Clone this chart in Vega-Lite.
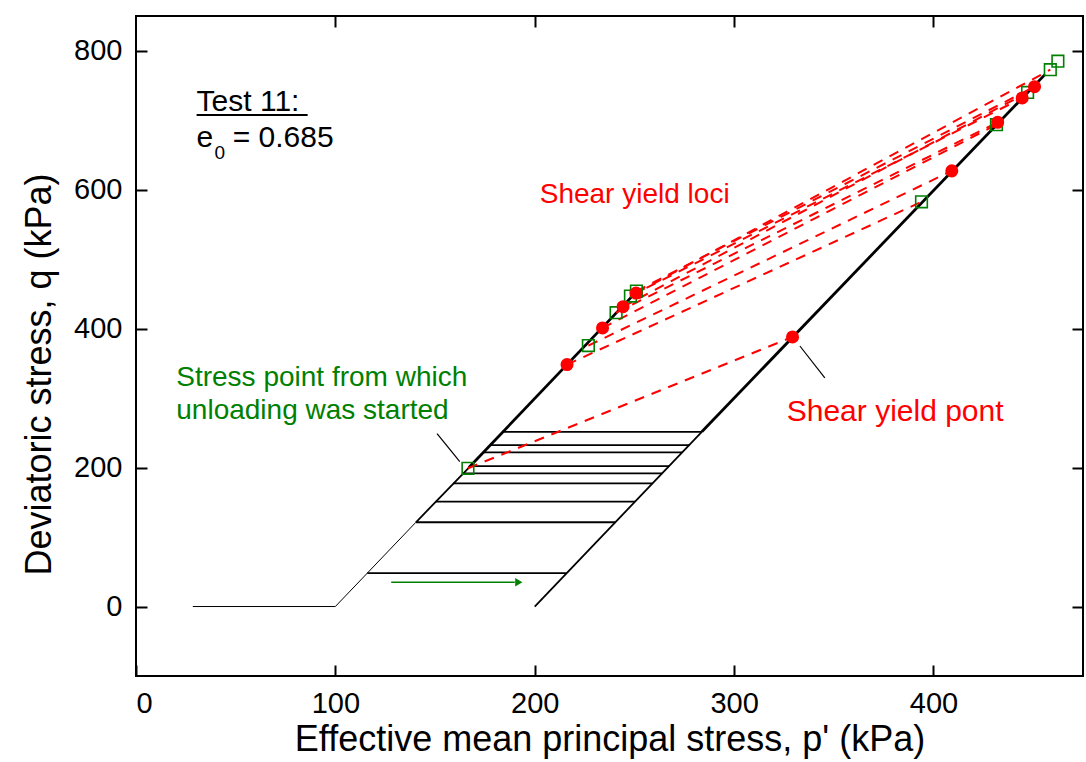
{
  "$schema": "https://vega.github.io/schema/vega-lite/v6.json",
  "width": 947,
  "height": 660,
  "autosize": "none",
  "padding": {"left": 136, "top": 16, "right": 3, "bottom": 86},
  "background": "white",
  "config": {
    "font": "Liberation Sans",
    "view": {"stroke": "black", "strokeWidth": 2},
    "axis": {"grid": false, "domain": false, "tickColor": "black", "tickWidth": 2, "labelColor": "black", "titleColor": "black", "titleFontWeight": "normal", "labelFont": "Liberation Sans", "titleFont": "Liberation Sans"}
  },
  "datasets": {
    "thin": [
      {"path": "iso", "p": 28.5, "q": 0}, {"path": "iso", "p": 100, "q": 0},
      {"path": "L0", "p": 100, "q": 0}, {"path": "L0", "p": 140.4, "q": 121.3}
    ],
    "mid": [
      {"path": "L1", "p": 140.4, "q": 121.3}, {"path": "L1", "p": 167, "q": 200},
      {"path": "R1", "p": 200, "q": 0}, {"path": "R1", "p": 283.8, "q": 251.5},
      {"path": "h1", "p": 183.8, "q": 251.5}, {"path": "h1", "p": 283.8, "q": 251.5},
      {"path": "h2", "p": 177.5, "q": 232.4}, {"path": "h2", "p": 277.5, "q": 232.4},
      {"path": "h3", "p": 174.0, "q": 221.9}, {"path": "h3", "p": 274.0, "q": 221.9},
      {"path": "h4", "p": 167.4, "q": 202.2}, {"path": "h4", "p": 267.4, "q": 202.2},
      {"path": "h5", "p": 163.9, "q": 191.7}, {"path": "h5", "p": 263.9, "q": 191.7},
      {"path": "h6", "p": 159.1, "q": 177.3}, {"path": "h6", "p": 259.1, "q": 177.3},
      {"path": "h7", "p": 150.3, "q": 150.9}, {"path": "h7", "p": 250.3, "q": 150.9},
      {"path": "h8", "p": 140.4, "q": 121.3}, {"path": "h8", "p": 240.4, "q": 121.3},
      {"path": "h9", "p": 116.0, "q": 48.0}, {"path": "h9", "p": 216.0, "q": 48.0}
    ],
    "thick": [
      {"path": "L2", "p": 167, "q": 200}, {"path": "L2", "p": 250, "q": 450},
      {"path": "R2", "p": 283.8, "q": 251.5}, {"path": "R2", "p": 456, "q": 766}
    ],
    "loci": [
      {"pair": 1, "p": 166.5, "q": 199}, {"pair": 1, "p": 329.3, "q": 388},
      {"pair": 2, "p": 216.2, "q": 348.3}, {"pair": 2, "p": 394.0, "q": 582.5},
      {"pair": 3, "p": 226.9, "q": 375.6}, {"pair": 3, "p": 409.2, "q": 627.1},
      {"pair": 4, "p": 234.0, "q": 401.0}, {"pair": 4, "p": 431.6, "q": 693.6},
      {"pair": 5, "p": 240.8, "q": 423.0}, {"pair": 5, "p": 432.2, "q": 697.0},
      {"pair": 6, "p": 244.3, "q": 431.6}, {"pair": 6, "p": 447.2, "q": 740.0},
      {"pair": 7, "p": 248.0, "q": 446.9}, {"pair": 7, "p": 444.5, "q": 732.0},
      {"pair": 8, "p": 250.8, "q": 451.2}, {"pair": 8, "p": 458.6, "q": 772.7},
      {"pair": 9, "p": 251.0, "q": 454.0}, {"pair": 9, "p": 450.7, "q": 748.2}
    ],
    "squares": [
      {"p": 166.5, "q": 199}, {"p": 226.9, "q": 375.6}, {"p": 240.8, "q": 423.0},
      {"p": 248.0, "q": 446.9}, {"p": 251.0, "q": 454.0}, {"p": 394.0, "q": 582.5},
      {"p": 431.6, "q": 693.6}, {"p": 447.2, "q": 740.0}, {"p": 458.6, "q": 772.7},
      {"p": 462.4, "q": 785.0}
    ],
    "dots": [
      {"p": 216.2, "q": 348.3}, {"p": 234.0, "q": 401.0}, {"p": 244.3, "q": 431.6},
      {"p": 250.8, "q": 451.2}, {"p": 329.3, "q": 388.0}, {"p": 409.2, "q": 627.1},
      {"p": 432.2, "q": 697.0}, {"p": 444.5, "q": 732.0}, {"p": 450.7, "q": 748.2}
    ],
    "leaders": [
      {"id": "a", "p": 151, "q": 249}, {"id": "a", "p": 162.4, "q": 208.4},
      {"id": "b", "p": 333, "q": 375}, {"id": "b", "p": 345.5, "q": 329}
    ],
    "arrow": [{"p": 128, "q": 35}, {"p": 190, "q": 35}],
    "arrowhead": [{"p": 192, "q": 35}]
  },
  "encoding": {
    "x": {"field": "p", "type": "quantitative", "scale": {"domain": [0, 475], "nice": false, "zero": false}, "axis": null},
    "y": {"field": "q", "type": "quantitative", "scale": {"domain": [-100, 850], "nice": false, "zero": false}, "axis": null}
  },
  "resolve": {"axis": {"x": "independent", "y": "independent"}},
  "layer": [
    {"data": {"name": "thin"}, "mark": {"type": "line", "color": "black", "strokeWidth": 1}, "encoding": {"detail": {"field": "path"}}},
    {"data": {"name": "mid"}, "mark": {"type": "line", "color": "black", "strokeWidth": 1.8}, "encoding": {"detail": {"field": "path"}}},
    {"data": {"name": "thick"}, "mark": {"type": "line", "color": "black", "strokeWidth": 2.8}, "encoding": {"detail": {"field": "path"}}},
    {"data": {"name": "loci"}, "mark": {"type": "line", "color": "#ff0000", "strokeWidth": 2, "strokeDash": [10, 8]}, "encoding": {"detail": {"field": "pair"}}},
    {"data": {"name": "leaders"}, "mark": {"type": "line", "color": "black", "strokeWidth": 1.2}, "encoding": {"detail": {"field": "id"}}},
    {"data": {"name": "arrow"}, "mark": {"type": "line", "color": "#008000", "strokeWidth": 1.6}, "encoding": {}},
    {"data": {"name": "arrowhead"}, "mark": {"type": "point", "shape": "triangle-right", "filled": true, "color": "#008000", "size": 70, "opacity": 1}, "encoding": {}},
    {
      "data": {"name": "squares"},
      "mark": {"type": "point", "shape": "square", "filled": false, "stroke": "#008000", "strokeWidth": 1.6, "size": 135, "opacity": 1},
      "encoding": {
        "x": {"field": "p", "type": "quantitative", "scale": {"domain": [0, 475], "nice": false, "zero": false},
              "axis": {"orient": "top", "values": [100, 200, 300, 400], "labels": false, "title": null, "tickSize": -11}},
        "y": {"field": "q", "type": "quantitative", "scale": {"domain": [-100, 850], "nice": false, "zero": false},
              "axis": {"orient": "right", "values": [0, 200, 400, 600, 800], "labels": false, "title": null, "tickSize": -11}}
      }
    },
    {
      "data": {"name": "dots"},
      "mark": {"type": "point", "shape": "circle", "filled": true, "color": "#ff0000", "size": 170, "opacity": 1},
      "encoding": {
        "x": {"field": "p", "type": "quantitative", "scale": {"domain": [0, 475], "nice": false, "zero": false},
              "axis": {"orient": "bottom", "values": [0, 100, 200, 300, 400], "tickSize": -11, "labelFontSize": 29, "labelPadding": 24,
                       "title": "Effective mean principal stress, p' (kPa)", "titleFontSize": 36, "titlePadding": 4}},
        "y": {"field": "q", "type": "quantitative", "scale": {"domain": [-100, 850], "nice": false, "zero": false},
              "axis": {"orient": "left", "values": [0, 200, 400, 600, 800], "tickSize": -11, "labelFontSize": 29, "labelPadding": 25,
                       "title": "Deviatoric stress, q (kPa)", "titleFontSize": 36, "titlePadding": 15, "titleY": 358}}
      }
    },
    {"data": {"values": [{"p": 30.4, "q": 713.7, "t": "Test 11:"}, {"p": 30.4, "q": 661.0, "t": "e"}, {"p": 48.5, "q": 661.0, "t": "= 0.685"}]},
     "mark": {"type": "text", "align": "left", "baseline": "alphabetic", "fontSize": 30, "color": "black"}, "encoding": {"text": {"field": "t"}}},
    {"data": {"values": [{"p": 39.4, "q": 644.8, "t": "0"}]},
     "mark": {"type": "text", "align": "left", "baseline": "alphabetic", "fontSize": 19, "color": "black"}, "encoding": {"text": {"field": "t"}}},
    {"data": {"values": [{"p": 30.4, "p2": 86.1, "q": 707.5}]},
     "mark": {"type": "rule", "color": "black", "strokeWidth": 2}, "encoding": {"x2": {"field": "p2"}}},
    {"data": {"values": [{"p": 202.5, "q": 581.5, "t": "Shear yield loci"}]},
     "mark": {"type": "text", "align": "left", "baseline": "alphabetic", "fontSize": 28, "color": "#ff0000"}, "encoding": {"text": {"field": "t"}}},
    {"data": {"values": [{"p": 326.4, "q": 266.9, "t": "Shear yield pont"}]},
     "mark": {"type": "text", "align": "left", "baseline": "alphabetic", "fontSize": 30, "color": "#ff0000"}, "encoding": {"text": {"field": "t"}}},
    {"data": {"values": [{"p": 20.2, "q": 317.1, "t": "Stress point from which"}, {"p": 20.2, "q": 269.3, "t": "unloading was started"}]},
     "mark": {"type": "text", "align": "left", "baseline": "alphabetic", "fontSize": 28, "color": "#008000"}, "encoding": {"text": {"field": "t"}}}
  ]
}
